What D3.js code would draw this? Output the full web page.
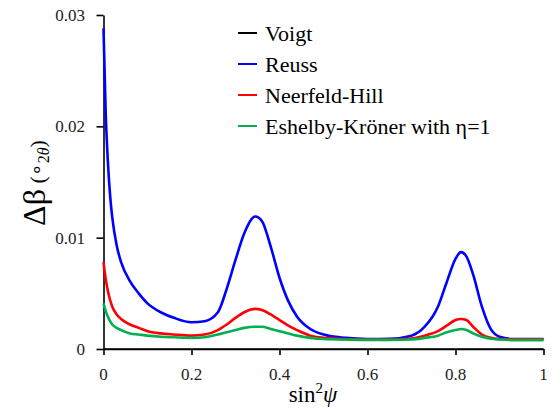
<!DOCTYPE html>
<html>
<head>
<meta charset="utf-8">
<script src="https://cdn.jsdelivr.net/npm/d3@7"></script>
</head>
<body style="margin:0">
<svg id="chart" width="560" height="410"></svg>
<script>
// sin²ψ sampling positions shared by all series
const sinPsi = [0, 0.005, 0.01, 0.015, 0.02, 0.03, 0.04, 0.06, 0.08, 0.1, 0.13, 0.16, 0.2, 0.23, 0.26, 0.28, 0.3, 0.32, 0.345, 0.36, 0.38, 0.4, 0.42, 0.44, 0.47, 0.5, 0.55, 0.6, 0.65, 0.7, 0.73, 0.76, 0.78, 0.8, 0.8125, 0.825, 0.84, 0.86, 0.88, 0.9, 0.93, 0.96, 1.0];

// Δβ (°2θ) for each grain-interaction model
const voigt = sinPsi.map(() => 0);
const reuss = [0.0288, 0.0212, 0.0168, 0.0138, 0.0118, 0.0093, 0.0078, 0.0061, 0.0050, 0.0041, 0.0033, 0.0028, 0.0024, 0.0025, 0.0033, 0.0054, 0.0080, 0.0104, 0.0119, 0.0115, 0.0092, 0.0064, 0.0043, 0.0029, 0.0018, 0.0013, 0.0010, 0.0009, 0.00092, 0.0012, 0.0020, 0.0038, 0.0060, 0.0081, 0.0087, 0.0083, 0.0067, 0.0038, 0.0018, 0.0011, 0.0009, 0.0009, 0.0009];
const neerfeldHill = [0.0078, 0.0063, 0.0052, 0.0044, 0.0038, 0.0031, 0.0027, 0.0022, 0.0019, 0.0016, 0.0014, 0.0013, 0.0012, 0.0013, 0.0017, 0.0022, 0.0028, 0.0033, 0.0036, 0.0035, 0.0031, 0.0026, 0.0021, 0.0017, 0.0012, 0.0010, 0.00088, 0.00085, 0.00085, 0.00095, 0.0012, 0.0016, 0.0021, 0.0026, 0.0027, 0.0026, 0.0020, 0.0013, 0.0010, 0.0009, 0.00087, 0.00087, 0.00087];
const eshelbyKroner = [0.0041, 0.0034, 0.0029, 0.0025, 0.0022, 0.0019, 0.0017, 0.0014, 0.0013, 0.0012, 0.0011, 0.00105, 0.0010, 0.00105, 0.0013, 0.0015, 0.0017, 0.0019, 0.0020, 0.0020, 0.0018, 0.0016, 0.0014, 0.0012, 0.0010, 0.0009, 0.00085, 0.00082, 0.00082, 0.00085, 0.0010, 0.0012, 0.0015, 0.0017, 0.0018, 0.0017, 0.0014, 0.0011, 0.00092, 0.00085, 0.0008, 0.0008, 0.0008];

const seriesNames = ["Voigt", "Reuss", "Neerfeld-Hill", "Eshelby-Kröner with η=1"];
const seriesColors = ["#000000", "#0000ff", "#ff0000", "#00b050"];
const seriesValues = [voigt, reuss, neerfeldHill, eshelbyKroner];

const xTicks = [0, 0.2, 0.4, 0.6, 0.8, 1];
const xTickLabels = ["0", "0.2", "0.4", "0.6", "0.8", "1"];
const yTicks = [0, 0.01, 0.02, 0.03];
const yTickLabels = ["0", "0.01", "0.02", "0.03"];

const FONT = '"Liberation Serif"';

const svg = d3.select("#chart");
const x = d3.scaleLinear().domain([0, 1]).range([103.5, 543.5]);
const y = d3.scaleLinear().domain([0, 0.03]).range([349, 15]);

// axis lines and tick marks
const xAxis = d3.axisBottom(x).tickValues(xTicks).tickFormat("").tickSize(6).tickSizeOuter(0);
const yAxis = d3.axisLeft(y).tickValues(yTicks).tickFormat("").tickSize(7).tickSizeOuter(0);
const gx = svg.append("g").attr("transform", `translate(0,${y(0)})`).call(xAxis);
const gy = svg.append("g").attr("transform", `translate(${x(0)},0)`).call(yAxis);
[gx, gy].forEach(g => {
  g.selectAll("path.domain").attr("stroke", "#000").attr("stroke-width", 1.6);
  g.selectAll(".tick line").attr("stroke", "#000").attr("stroke-width", 1.6);
  g.selectAll(".tick text").remove();
});

// tick labels
xTicks.forEach((v, i) => {
  svg.append("text").attr("x", x(v)).attr("y", 380).attr("text-anchor", "middle")
    .attr("font-size", 17).attr("fill", "#222").style("font-family", FONT).text(xTickLabels[i]);
});
yTicks.forEach((v, i) => {
  svg.append("text").attr("x", 85).attr("y", y(v) + 6).attr("text-anchor", "end")
    .attr("font-size", 17).attr("fill", "#222").style("font-family", FONT).text(yTickLabels[i]);
});

// series lines
const line = d3.line().x((d, i) => x(sinPsi[i])).y(d => y(d)).curve(d3.curveMonotoneX);
seriesValues.forEach((vals, k) => {
  svg.append("path")
    .datum(vals)
    .attr("fill", "none")
    .attr("stroke", seriesColors[k])
    .attr("stroke-width", k === 0 ? 1.6 : 2.6)
    .attr("stroke-linejoin", "round")
    .attr("d", line);
});

// legend
seriesNames.forEach((name, k) => {
  const yy = 33 + k * 31;
  svg.append("line").attr("x1", 238).attr("x2", 257).attr("y1", yy).attr("y2", yy)
    .attr("stroke", seriesColors[k]).attr("stroke-width", 2);
  svg.append("text").attr("x", 265).attr("y", yy + 7.5)
    .attr("font-size", 22).attr("fill", "#000").style("font-family", FONT).text(name);
});

// x axis title: sin²ψ
const xt = svg.append("text").attr("x", 313).attr("y", 402).attr("text-anchor", "middle")
  .attr("font-size", 23).attr("fill", "#000").style("font-family", FONT);
xt.append("tspan").text("sin");
xt.append("tspan").attr("dy", -9).attr("font-size", 15).text("2");
xt.append("tspan").attr("dy", 9).attr("font-style", "italic").text("ψ");

// y axis title: Δβ (°2θ)
const yt = svg.append("text").attr("transform", "translate(45,183) rotate(-90)")
  .attr("text-anchor", "middle").attr("fill", "#000").style("font-family", FONT);
yt.append("tspan").attr("font-size", 32).text("Δβ");
yt.append("tspan").attr("font-size", 22).text(" (");
yt.append("tspan").attr("font-size", 20).attr("dy", -1).text("∘");
yt.append("tspan").attr("font-size", 16).attr("dy", 5).text("2");
yt.append("tspan").attr("font-size", 16).attr("font-style", "italic").text("θ");
yt.append("tspan").attr("font-size", 22).attr("dy", -4).text(")");
</script>
</body>
</html>
